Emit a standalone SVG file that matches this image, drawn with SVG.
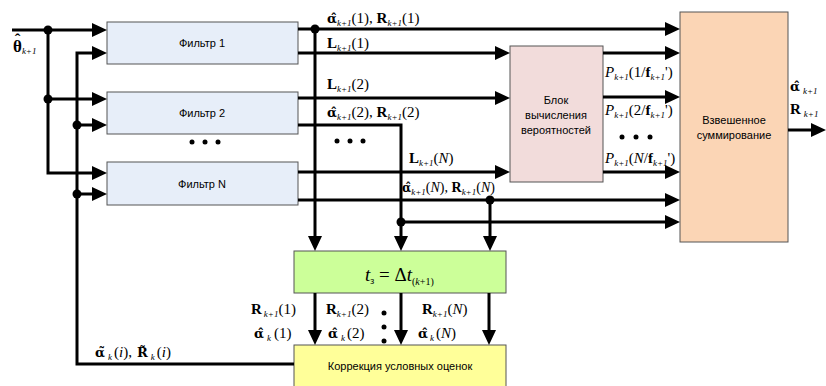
<svg xmlns="http://www.w3.org/2000/svg" width="826" height="386" viewBox="0 0 826 386">
<style>
.ln{fill:none;stroke:#000;stroke-width:3}
.bx{stroke:#555;stroke-width:1}
.t{font-family:"Liberation Sans",Arial,sans-serif;font-size:11px;fill:#000;text-anchor:middle}
.m{font-family:"Liberation Serif","Times New Roman",serif;font-size:15px;fill:#000}
.b{font-weight:bold}
.g{font-family:"DejaVu Serif",serif;font-weight:bold;font-size:13px}
.s{font-size:9px;font-style:italic}
.i{font-style:italic}
</style>
<defs>
<marker id="a" markerUnits="userSpaceOnUse" markerWidth="16" markerHeight="16" viewBox="0 0 16 16" refX="10" refY="8" orient="auto"><path d="M0,1 L15,8 L0,15 z" fill="#000"/></marker>
</defs>
<rect width="826" height="386" fill="#fff"/>
<g id="filter1"><rect class="bx" x="107" y="22" width="191" height="42" fill="#e7eef9"/><text class="t" x="202" y="47">Фильтр 1</text></g>
<g id="filter2"><rect class="bx" x="107" y="92" width="191" height="42" fill="#e7eef9"/><text class="t" x="202" y="117">Фильтр 2</text></g>
<g id="filterN"><rect class="bx" x="107" y="162" width="191" height="43" fill="#e7eef9"/><text class="t" x="202" y="188">Фильтр N</text></g>
<g id="prob"><rect class="bx" x="510" y="46" width="93" height="136" fill="#f2dcdb"/><text class="t" x="556" y="104">Блок</text><text class="t" x="556" y="119">вычисления</text><text class="t" x="556" y="134">вероятностей</text></g>
<g id="wsum"><rect class="bx" x="680" y="12" width="108" height="230" fill="#fbd5b5"/><text class="t" x="734" y="124">Взвешенное</text><text class="t" x="734" y="139">суммирование</text></g>
<g id="delay"><rect class="bx" x="294" y="251" width="212" height="42" fill="#ccff99"/><text class="m" x="365" y="281" style="font-size:19px"><tspan class="i">t</tspan><tspan style="font-size:10px" dy="3">з</tspan><tspan dy="-3"> = Δ</tspan><tspan class="i">t</tspan><tspan style="font-size:10px" dy="4">(</tspan><tspan style="font-size:10px;font-style:italic">k</tspan><tspan style="font-size:10px">+1)</tspan></text></g>
<g id="correct"><rect class="bx" x="294" y="345" width="212" height="50" fill="#ffff99"/><text class="t" x="400" y="370">Коррекция условных оценок</text></g>
<g id="connectors">
<path class="ln" d="M12,30 H102" marker-end="url(#a)"/>
<path class="ln" d="M48,30 V173 H102" marker-end="url(#a)"/>
<path class="ln" d="M48,99 H102" marker-end="url(#a)"/>
<path class="ln" d="M294,364 H77 V53 H102" marker-end="url(#a)"/>
<path class="ln" d="M77,125 H102" marker-end="url(#a)"/>
<path class="ln" d="M77,194 H102" marker-end="url(#a)"/>
<path class="ln" d="M298,29 H675" marker-end="url(#a)"/>
<path class="ln" d="M315,29 V246" marker-end="url(#a)"/>
<path class="ln" d="M298,53 H505" marker-end="url(#a)"/>
<path class="ln" d="M298,98 H505" marker-end="url(#a)"/>
<path class="ln" d="M298,125 H401 V246" marker-end="url(#a)"/>
<path class="ln" d="M401,222 H675" marker-end="url(#a)"/>
<path class="ln" d="M298,172 H505" marker-end="url(#a)"/>
<path class="ln" d="M298,200 H675" marker-end="url(#a)"/>
<path class="ln" d="M490,200 V246" marker-end="url(#a)"/>
<path class="ln" d="M603,53 H675" marker-end="url(#a)"/>
<path class="ln" d="M603,97 H675" marker-end="url(#a)"/>
<path class="ln" d="M603,172 H675" marker-end="url(#a)"/>
<path class="ln" d="M788,130 H821" marker-end="url(#a)"/>
<path class="ln" d="M315,293 V340" marker-end="url(#a)"/>
<path class="ln" d="M401,293 V340" marker-end="url(#a)"/>
<path class="ln" d="M489,293 V340" marker-end="url(#a)"/>
<g fill="#000">
<circle cx="48" cy="30" r="4.5"/><circle cx="48" cy="99" r="4.5"/><circle cx="77" cy="125" r="4.5"/><circle cx="77" cy="194" r="4.5"/>
<circle cx="315" cy="29" r="4.5"/><circle cx="401" cy="222" r="4.5"/><circle cx="490" cy="200" r="4.5"/>
</g>
</g>
<g id="dots" fill="#000">
<circle cx="192" cy="142" r="2.5"/><circle cx="205" cy="142" r="2.5"/><circle cx="218" cy="142" r="2.5"/>
<circle cx="337" cy="141" r="2.5"/><circle cx="350" cy="141" r="2.5"/><circle cx="363" cy="141" r="2.5"/>
<circle cx="622" cy="137" r="2.5"/><circle cx="636" cy="137" r="2.5"/><circle cx="650" cy="137" r="2.5"/>
<circle cx="384" cy="313" r="2.5"/><circle cx="384" cy="327" r="2.5"/><circle cx="384" cy="341" r="2.5"/>
</g>
<g id="labels">
<text class="m" x="13" y="52" style="font-size:17px"><tspan class="b">θ</tspan><tspan class="s" dy="2">k+1</tspan><tspan class="b" x="14.7" y="45">ˆ</tspan></text>
<text class="m" x="327" y="23"><tspan class="g">α̂</tspan><tspan class="s" dy="3">k+1</tspan><tspan dy="-3">(1), </tspan><tspan class="b">R</tspan><tspan class="s" dy="3">k+1</tspan><tspan dy="-3">(1)</tspan></text>
<text class="m" x="327" y="48"><tspan class="b">L</tspan><tspan class="s" dy="3">k+1</tspan><tspan dy="-3">(1)</tspan></text>
<text class="m" x="327" y="89"><tspan class="b">L</tspan><tspan class="s" dy="3">k+1</tspan><tspan dy="-3">(2)</tspan></text>
<text class="m" x="327" y="117"><tspan class="g">α̂</tspan><tspan class="s" dy="3">k+1</tspan><tspan dy="-3">(2), </tspan><tspan class="b">R</tspan><tspan class="s" dy="3">k+1</tspan><tspan dy="-3">(2)</tspan></text>
<text class="m" x="409" y="163"><tspan class="b">L</tspan><tspan class="s" dy="3">k+1</tspan><tspan dy="-3">(</tspan><tspan class="i">N</tspan><tspan>)</tspan></text>
<text class="m" x="402" y="192" style="font-size:14px"><tspan class="g" style="font-size:12px">α̂</tspan><tspan class="s" dy="3">k+1</tspan><tspan dy="-3">(</tspan><tspan class="i">N</tspan><tspan>), </tspan><tspan class="b">R</tspan><tspan class="s" dy="3">k+1</tspan><tspan dy="-3">(</tspan><tspan class="i">N</tspan><tspan>)</tspan></text>
<text class="m" x="605" y="77"><tspan class="i">P</tspan><tspan class="s" dy="3">k+1</tspan><tspan dy="-3">(1/</tspan><tspan class="b">f</tspan><tspan class="s" dy="3">k+1</tspan><tspan dy="-3">')</tspan></text>
<text class="m" x="605" y="115"><tspan class="i">P</tspan><tspan class="s" dy="3">k+1</tspan><tspan dy="-3">(2/</tspan><tspan class="b">f</tspan><tspan class="s" dy="3">k+1</tspan><tspan dy="-3">')</tspan></text>
<text class="m" x="605" y="163"><tspan class="i">P</tspan><tspan class="s" dy="3">k+1</tspan><tspan dy="-3">(</tspan><tspan class="i">N</tspan><tspan>/</tspan><tspan class="b">f</tspan><tspan class="s" dy="3">k+1</tspan><tspan dy="-3">')</tspan></text>
<text class="m" x="790" y="91"><tspan class="g">α̂</tspan><tspan class="s" dx="3" dy="3">k+1</tspan></text>
<text class="m" x="790" y="114"><tspan class="b">R</tspan><tspan class="s" dx="3" dy="3">k+1</tspan></text>
<text class="m" x="251" y="314"><tspan class="b">R</tspan><tspan class="s" dx="2" dy="3">k+1</tspan><tspan dy="-3">(1)</tspan></text>
<text class="m" x="254" y="338"><tspan class="g">α̂</tspan><tspan class="s" dx="3" dy="3">k</tspan><tspan dx="3" dy="-3">(1)</tspan></text>
<text class="m" x="326" y="314"><tspan class="b">R</tspan><tspan class="s" dy="3">k+1</tspan><tspan dy="-3">(2)</tspan></text>
<text class="m" x="328" y="338"><tspan class="g">α̂</tspan><tspan class="s" dx="3" dy="3">k</tspan><tspan dx="2" dy="-3">(2)</tspan></text>
<text class="m" x="422" y="314"><tspan class="b">R</tspan><tspan class="s" dy="3">k+1</tspan><tspan dy="-3">(</tspan><tspan class="i">N</tspan><tspan>)</tspan></text>
<text class="m" x="418" y="338"><tspan class="g">α̂</tspan><tspan class="s" dx="2" dy="3">k</tspan><tspan dx="2" dy="-3">(</tspan><tspan class="i">N</tspan><tspan>)</tspan></text>
<text class="m" x="95" y="357"><tspan class="g">α̃</tspan><tspan class="s" dx="3" dy="3">k</tspan><tspan dx="2" dy="-3">(</tspan><tspan class="i">i</tspan><tspan>), </tspan><tspan class="g" x="137">R̃</tspan><tspan class="s" dx="3" dy="3">k</tspan><tspan dx="2" dy="-3">(</tspan><tspan class="i">i</tspan><tspan>)</tspan></text>
</g>
</svg>
